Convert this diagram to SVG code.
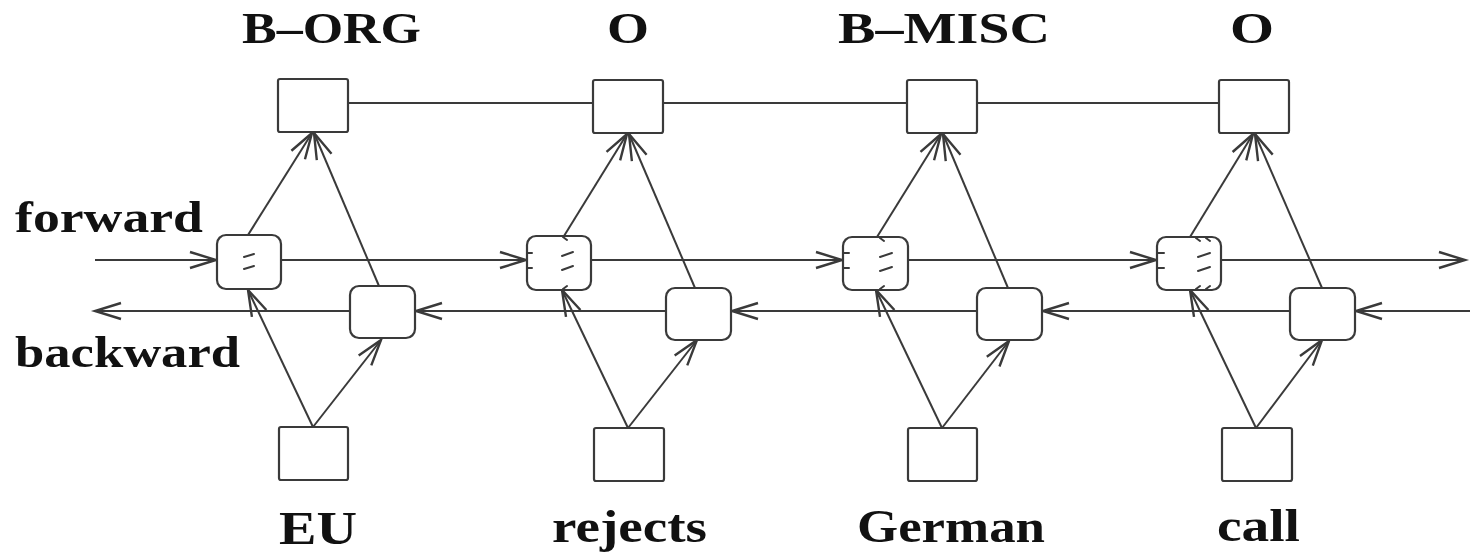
<svg xmlns="http://www.w3.org/2000/svg" width="1470" height="552" viewBox="0 0 1470 552">
<style>
.box{fill:#fff;stroke:#3a3a3a;stroke-width:2.2}
.edge{fill:none;stroke:#3a3a3a;stroke-width:2}
.tick{fill:none;stroke:#3a3a3a;stroke-width:2;stroke-linecap:round}
.lbl{font-family:"Liberation Serif","Times New Roman",serif;font-weight:bold;fill:#111}
.top{font-size:45px}
.bot{font-size:46px}
.side{font-size:44px}
</style>
<defs>
<marker id="arr" markerUnits="userSpaceOnUse" viewBox="-30 -12 32 24" refX="0" refY="0" markerWidth="32" markerHeight="24" orient="auto" overflow="visible">
<path d="M-26,-8 L0,0 L-26,8" fill="none" stroke="#3a3a3a" stroke-width="2.4" stroke-linejoin="miter"/>
</marker>
</defs>
<rect width="1470" height="552" fill="#fff"/>

<g id="connectors">
<path class="edge" d="M348,103 H593 M663,103 H907 M977,103 H1219"/>
<path class="edge" d="M95,260 H216" marker-end="url(#arr)"/>
<path class="edge" d="M281,260 H526" marker-end="url(#arr)"/>
<path class="edge" d="M591,260 H842" marker-end="url(#arr)"/>
<path class="edge" d="M907,260 H1156" marker-end="url(#arr)"/>
<path class="edge" d="M1221,260 H1465" marker-end="url(#arr)"/>
<path class="edge" d="M1470,311 H1356" marker-end="url(#arr)"/>
<path class="edge" d="M1290,311 H1043" marker-end="url(#arr)"/>
<path class="edge" d="M977,311 H732" marker-end="url(#arr)"/>
<path class="edge" d="M666,311 H416" marker-end="url(#arr)"/>
<path class="edge" d="M350,311 H95" marker-end="url(#arr)"/>
<path class="edge" d="M313,427 L248,290" marker-end="url(#arr)"/>
<path class="edge" d="M313,427 L381,340" marker-end="url(#arr)"/>
<path class="edge" d="M248,235 L312,133" marker-end="url(#arr)"/>
<path class="edge" d="M379,286 L314,133" marker-end="url(#arr)"/>
<path class="edge" d="M628,428 L562,290" marker-end="url(#arr)"/>
<path class="edge" d="M628,428 L697,340" marker-end="url(#arr)"/>
<path class="edge" d="M564,236 L627,134" marker-end="url(#arr)"/>
<path class="edge" d="M695,288 L629,134" marker-end="url(#arr)"/>
<path class="edge" d="M942,428 L876,290" marker-end="url(#arr)"/>
<path class="edge" d="M942,428 L1009,341" marker-end="url(#arr)"/>
<path class="edge" d="M877,237 L941,134" marker-end="url(#arr)"/>
<path class="edge" d="M1008,288 L943,134" marker-end="url(#arr)"/>
<path class="edge" d="M1256,428 L1190,290" marker-end="url(#arr)"/>
<path class="edge" d="M1256,428 L1322,340" marker-end="url(#arr)"/>
<path class="edge" d="M1190,237 L1253,134" marker-end="url(#arr)"/>
<path class="edge" d="M1322,288 L1255,134" marker-end="url(#arr)"/>
</g>

<g id="label-forward"><text class="lbl side" x="15" y="232" textLength="188" lengthAdjust="spacingAndGlyphs">forward</text></g>
<g id="label-backward"><text class="lbl side" x="15" y="367" textLength="225" lengthAdjust="spacingAndGlyphs">backward</text></g>

<g id="out1"><rect class="box" x="278" y="79" width="70" height="53" rx="2"/><text class="lbl top" x="242" y="43" textLength="179" lengthAdjust="spacingAndGlyphs">B–ORG</text></g>
<g id="fwd1"><rect class="box" x="217" y="235" width="64" height="54" rx="9"/><path class="tick" d="M244,257 L254,254 M244,269 L254,266"/></g>
<g id="bwd1"><rect class="box" x="350" y="286" width="65" height="52" rx="9"/></g>
<g id="in1"><rect class="box" x="279" y="427" width="69" height="53" rx="2"/><text class="lbl bot" x="279" y="544" textLength="78" lengthAdjust="spacingAndGlyphs">EU</text></g>

<g id="out2"><rect class="box" x="593" y="80" width="70" height="53" rx="2"/><text class="lbl top" x="607" y="43" textLength="42" lengthAdjust="spacingAndGlyphs">O</text></g>
<g id="fwd2"><rect class="box" x="527" y="236" width="64" height="54" rx="9"/><path class="tick" d="M528,253 L532,253 M528,268 L532,268 M562,256 L573,252 M562,270 L573,266 M563,237 L567,240 M563,289 L567,286"/></g>
<g id="bwd2"><rect class="box" x="666" y="288" width="65" height="52" rx="9"/></g>
<g id="in2"><rect class="box" x="594" y="428" width="70" height="53" rx="2"/><text class="lbl bot" x="552" y="542" textLength="155" lengthAdjust="spacingAndGlyphs">rejects</text></g>

<g id="out3"><rect class="box" x="907" y="80" width="70" height="53" rx="2"/><text class="lbl top" x="838" y="43" textLength="212" lengthAdjust="spacingAndGlyphs">B–MISC</text></g>
<g id="fwd3"><rect class="box" x="843" y="237" width="65" height="53" rx="9"/><path class="tick" d="M844,253 L849,253 M844,268 L849,268 M880,257 L892,253 M880,271 L892,267 M880,238 L884,241 M880,289 L884,286"/></g>
<g id="bwd3"><rect class="box" x="977" y="288" width="65" height="52" rx="9"/></g>
<g id="in3"><rect class="box" x="908" y="428" width="69" height="53" rx="2"/><text class="lbl bot" x="857" y="542" textLength="188" lengthAdjust="spacingAndGlyphs">German</text></g>

<g id="out4"><rect class="box" x="1219" y="80" width="70" height="53" rx="2"/><text class="lbl top" x="1230" y="43" textLength="44" lengthAdjust="spacingAndGlyphs">O</text></g>
<g id="fwd4"><rect class="box" x="1157" y="237" width="64" height="53" rx="9"/><path class="tick" d="M1158,253 L1164,253 M1158,268 L1164,268 M1198,257 L1210,253 M1198,271 L1210,267 M1196,238 L1200,241 M1196,289 L1200,286 M1206,238 L1210,241 M1206,289 L1210,286"/></g>
<g id="bwd4"><rect class="box" x="1290" y="288" width="65" height="52" rx="9"/></g>
<g id="in4"><rect class="box" x="1222" y="428" width="70" height="53" rx="2"/><text class="lbl bot" x="1217" y="541" textLength="83" lengthAdjust="spacingAndGlyphs">call</text></g>
</svg>
